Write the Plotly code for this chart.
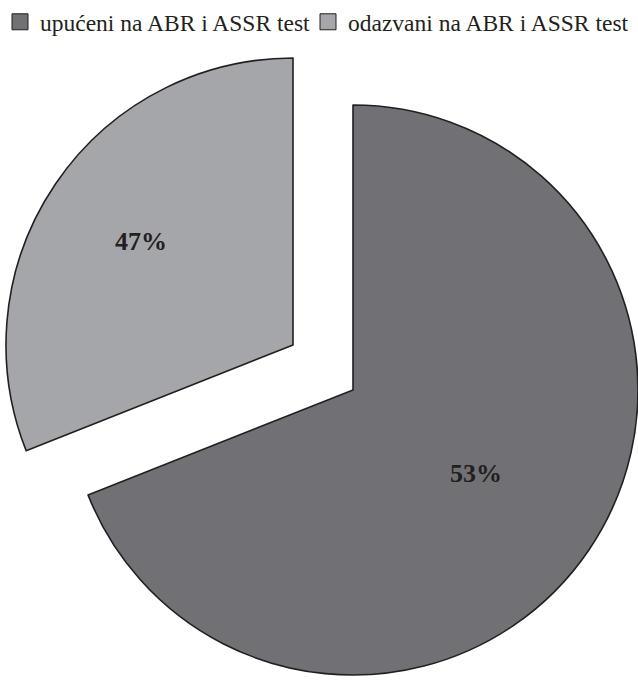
import math
import plotly.graph_objects as go

# ---- data ----
categories = ["upućeni na ABR i ASSR test", "odazvani na ABR i ASSR test"]
pct_labels = ["53%", "47%"]          # printed value labels
slice_share = [69, 31]               # angular share of each slice as drawn
slice_colors = ["#717175", "#a5a6aa"]

W, H = 638, 680
EDGE = "#231f20"
TRANSP = "rgba(0,0,0,0)"

# pie centres / radii (pixels) and label distance as fraction of radius
pies = [dict(cx=353, cy=390, r=285, lab=0.52),
        dict(cx=293, cy=345, r=287, lab=0.64)]
legend_widths = [263, 286]

def px_domain(cx, cy, r):
    return dict(x=[(cx - r) / W, (cx + r) / W],
                y=[1 - (cy + r) / H, 1 - (cy - r) / H])

fig = go.Figure()
total = sum(slice_share)
start = 0.0
for i, p in enumerate(pies):
    cols = [TRANSP] * len(categories)
    lcols = [TRANSP] * len(categories)
    lw = [0] * len(categories)
    cols[i] = slice_colors[i]
    lcols[i] = EDGE
    lw[i] = 1.6
    fig.add_trace(go.Pie(
        labels=categories, values=slice_share, sort=False, direction="clockwise",
        rotation=0, domain=px_domain(p["cx"], p["cy"], p["r"]),
        marker=dict(colors=cols, line=dict(color=lcols, width=lw)),
        textinfo="none", hoverinfo="skip", showlegend=False,
    ))
    # value label along the slice bisector
    frac = slice_share[i] / total
    mid = (start + frac / 2) * 2 * math.pi
    start += frac
    lx = p["cx"] + p["lab"] * p["r"] * math.sin(mid)
    ly = p["cy"] - p["lab"] * p["r"] * math.cos(mid)
    fig.add_annotation(x=lx / W, y=1 - ly / H, xref="paper", yref="paper",
                       xanchor="center", yanchor="middle",
                       text=pct_labels[i], showarrow=False,
                       font=dict(family="Liberation Serif", size=26, color=EDGE,
                                 weight="bold"))

# legend entries
for name, col, lwid in zip(categories, slice_colors, legend_widths):
    fig.add_trace(go.Scatter(
        x=[None], y=[None], mode="markers", name=name, legendwidth=lwid,
        marker=dict(symbol="square", size=18, color=col,
                    line=dict(color=EDGE, width=1)),
    ))

fig.update_layout(
    width=W, height=H,
    margin=dict(l=0, r=0, t=0, b=0),
    paper_bgcolor="white", plot_bgcolor="white",
    xaxis=dict(visible=False), yaxis=dict(visible=False),
    legend=dict(orientation="h", x=0, xanchor="left", y=1, yanchor="top",
                font=dict(family="Liberation Serif", size=23.5, color=EDGE),
                bgcolor="rgba(0,0,0,0)", itemclick=False, itemdoubleclick=False),
)

fig.write_html("out.html")
